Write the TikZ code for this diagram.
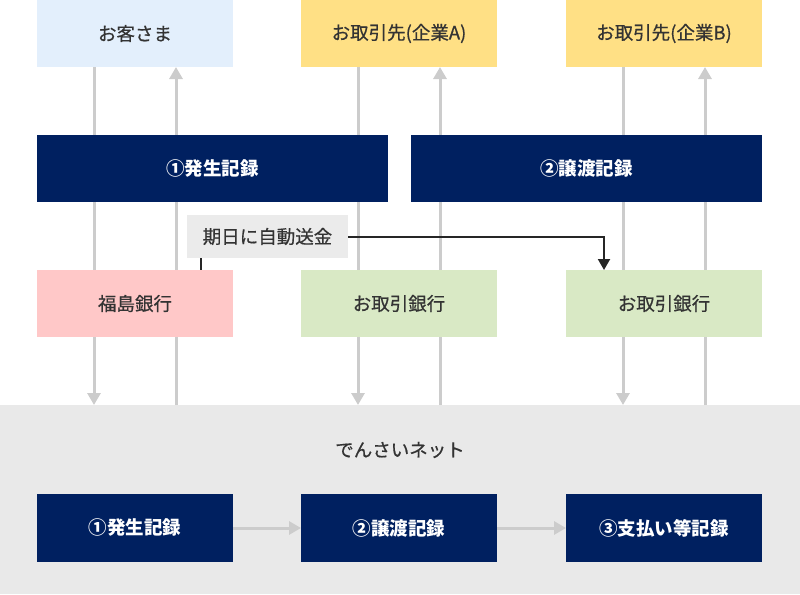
\documentclass[tikz,border=0pt]{standalone}
\usepackage{fontspec}
\usepackage{xcolor}
\usepackage{tikz}
\usetikzlibrary{arrows.meta}
\usetikzlibrary{positioning}
\usetikzlibrary{backgrounds}
\setmainfont{Noto Sans CJK JP}
\newfontfamily\medfont{Noto Sans CJK JP}[FakeBold=0.6]

\definecolor{navy}{HTML}{002060}
\definecolor{custblue}{HTML}{E3EFFC}
\definecolor{compyellow}{HTML}{FFE085}
\definecolor{bankpink}{HTML}{FFC8C8}
\definecolor{bankgreen}{HTML}{D9E9C5}
\definecolor{netgray}{HTML}{E9E9E9}
\definecolor{labelgray}{HTML}{EBEBEB}
\definecolor{linegray}{HTML}{CCCCCC}
\definecolor{textgray}{HTML}{333333}

\tikzset{
% Define standard arrow tip
>={Triangle[width=13pt, length=12pt]},
party/.style={rectangle, minimum width=196pt, minimum height=67pt,
  text=textgray, font=\medfont\fontsize{18.5}{22}\selectfont},
record/.style={rectangle, fill=navy, minimum height=67pt,
  text=white, font=\fontsize{18.5}{22}\selectfont\bfseries},
flow/.style={draw=linegray, line width=3pt},
pay/.style={draw=black!85, line width=2pt,
  -{Triangle[width=12pt, length=11pt]}}
}

\begin{document}
\begin{tikzpicture}[x=1pt, y=-1pt, inner sep=0, outer sep=0]
  \useasboundingbox (0,0) rectangle (800,594);

  % parties
  \node[party, fill=custblue] (cust) at (135, 33.5) {お客さま};
  \node[party, fill=compyellow] (compA) at (399, 33.5) {お取引先(企業A)};
  \node[party, fill=compyellow] (compB) at (664, 33.5) {お取引先(企業B)};

  % records in the middle
  \node[record, minimum width=351pt] (issue) at (212.5, 168.5) {①発生記録};
  \node[record, minimum width=351pt] (transfer) at (586.5, 168.5) {②譲渡記録};

  % banks
  \node[party, fill=bankpink] (fukushima) at (135, 303.5) {福島銀行};
  \node[party, fill=bankgreen] (bankA) at (399, 303.5) {お取引銀行};
  \node[party, fill=bankgreen] (bankB) at (664, 303.5) {お取引銀行};

  \node[party, fill=labelgray, minimum width=161pt, minimum height=43pt] (auto) at (267.5, 236.5) {期日に自動送金};

  % densai net
  \begin{scope}[on background layer]
    \fill[netgray] (0,405) rectangle (800,594);
  \end{scope}
  \coordinate (net) at (400, 405);
  \node[text=textgray, font=\medfont\fontsize{18.5}{22}\selectfont] (netname) at (400, 450) {でんさいネット};

  \node[record, minimum width=196pt, minimum height=68pt] (net1) at (135, 528) {①発生記録};
  \node[record, minimum width=196pt, minimum height=68pt] (net2) at (399, 528) {②譲渡記録};
  \node[record, minimum width=196pt, minimum height=68pt] (net3) at (664, 528) {③支払い等記録};

  % flows behind the boxes
  \begin{scope}[on background layer]
    \foreach \p in {cust, compA, compB} {
      \draw[flow, ->] ([xshift=-41pt]\p.south) -- ([xshift=-41pt]\p.south |- net);
      \draw[flow, ->] ([xshift=41pt]\p.south |- net) -- ([xshift=41pt]\p.south);
    }
  \end{scope}
  \draw[flow, ->] (net1) -- (net2);
  \draw[flow, ->] (net2) -- (net3);

  % payment on due date
  \draw[draw=black!85, line width=2pt] ([xshift=-66.5pt]auto.south) -- ([xshift=-66.5pt]auto.south |- fukushima.north);
  \draw[pay] (auto.east) -| ([xshift=-60pt]bankB.north);
\end{tikzpicture}
\end{document}
